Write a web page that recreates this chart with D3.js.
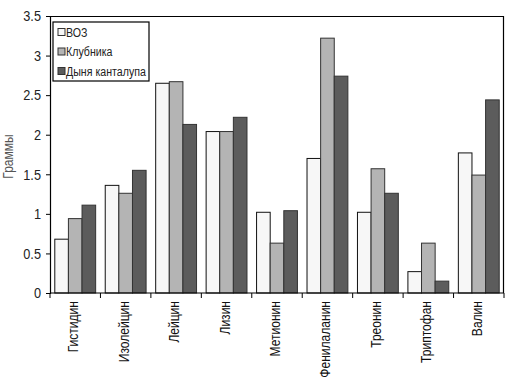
<!DOCTYPE html>
<html>
<head>
<meta charset="utf-8">
<script src="https://cdn.jsdelivr.net/npm/d3@7"></script>
<style>
  body { margin: 0; background: #fff; }
  text { font-family: "Liberation Sans", Arial, sans-serif; fill: #111; }
</style>
</head>
<body>
<svg id="chart" width="511" height="384"></svg>
<script>
// amino acids, grams
var categories = ["Гистидин", "Изолейцин", "Лейцин", "Лизин", "Метионин", "Фенилаланин", "Треонин", "Триптофан", "Валин"];
var seriesNames = ["ВОЗ", "Клубника", "Дыня канталупа"];
var voz = [0.68, 1.36, 2.65, 2.04, 1.02, 1.70, 1.02, 0.27, 1.77];
var strawberry = [0.94, 1.26, 2.67, 2.04, 0.63, 3.22, 1.57, 0.63, 1.49];
var melon = [1.11, 1.55, 2.13, 2.22, 1.04, 2.74, 1.26, 0.15, 2.44];
var yTicks = [0, 0.5, 1, 1.5, 2, 2.5, 3, 3.5];
var colors = ["#f7f7f7", "#b4b4b4", "#5c5c5c"];

var allSeries = [voz, strawberry, melon];
var margin = {left: 50, right: 7, top: 16, bottom: 91};
var width = 511 - margin.left - margin.right;
var height = 384 - margin.top - margin.bottom;

// squeeze text to look like a narrow font (no Arial Narrow here)
function narrow(sel, k) {
  sel.each(function(){
    var w = this.getComputedTextLength();
    d3.select(this).attr("textLength", w * k).attr("lengthAdjust", "spacingAndGlyphs");
  });
}

var svg = d3.select("#chart");
var g = svg.append("g").attr("transform", "translate(" + margin.left + "," + margin.top + ")");

var x = d3.scaleBand().domain(categories).range([0, width]).paddingInner(0.19).paddingOuter(0.095);
var xs = d3.scaleBand().domain(d3.range(3)).range([0, x.bandwidth()]);
var y = d3.scaleLinear().domain([0, 3.5]).range([height, 0]);

// frame top + right
g.append("path")
  .attr("d", "M0,0.5H" + (width - 0.5) + "V" + height)
  .attr("fill", "none").attr("stroke", "#000").attr("stroke-width", 1.2);

// bars
var groups = g.selectAll(".grp").data(categories).enter().append("g")
  .attr("transform", function(d){ return "translate(" + x(d) + ",0)"; });

groups.selectAll("rect").data(function(d, i){
    return allSeries.map(function(s, k){ return {k: k, v: s[i]}; });
  }).enter().append("rect")
  .attr("x", function(d){ return xs(d.k); })
  .attr("width", xs.bandwidth())
  .attr("y", function(d){ return y(d.v); })
  .attr("height", function(d){ return height - y(d.v); })
  .attr("fill", function(d){ return colors[d.k]; })
  .attr("stroke", function(d){ return d.k === 0 ? "#111" : "#333"; })
  .attr("stroke-width", 1);

// y axis
var yAxis = g.append("g").call(d3.axisLeft(y).tickValues(yTicks).tickSize(4).tickFormat(d3.format("")));
yAxis.select(".domain").attr("stroke", "#000").attr("stroke-width", 1.2);
yAxis.selectAll("text").attr("font-size", 15).attr("dx", "-2").style("fill", "#222").call(narrow, 0.85);

// x axis with ticks at category boundaries
var xAxis = g.append("g").attr("transform", "translate(0," + height + ")");
xAxis.append("line").attr("x1", 0).attr("x2", width).attr("stroke", "#000").attr("stroke-width", 1.2);
xAxis.selectAll(".tk").data(d3.range(categories.length + 1)).enter().append("line")
  .attr("x1", function(i){ return i * width / categories.length; })
  .attr("x2", function(i){ return i * width / categories.length; })
  .attr("y1", 0).attr("y2", 5).attr("stroke", "#000");
xAxis.selectAll(".lbl").data(categories).enter().append("text")
  .attr("transform", function(d){ return "translate(" + (x(d) + x.bandwidth() / 2 + 3) + ",8) rotate(-90)"; })
  .attr("text-anchor", "end")
  .attr("font-size", 14)
  .text(function(d){ return d; })
  .call(narrow, 0.86);

// y title
svg.append("text")
  .attr("transform", "translate(13," + (margin.top + height / 2 + 2) + ") rotate(-90)")
  .attr("text-anchor", "middle")
  .attr("font-size", 15)
  .style("fill", "#555")
  .text("Граммы")
  .call(narrow, 0.8);

// legend
var lg = g.append("g").attr("transform", "translate(3,6)");
lg.append("rect").attr("width", 96).attr("height", 59)
  .attr("fill", "#fff").attr("stroke", "#000").attr("stroke-width", 1.2);
var items = lg.selectAll(".it").data(seriesNames).enter().append("g")
  .attr("transform", function(d, i){ return "translate(5," + (10 + i * 19.5) + ")"; });
items.append("rect").attr("x", 0).attr("y", -3.5).attr("width", 7).attr("height", 7)
  .attr("fill", function(d, i){ return colors[i]; }).attr("stroke", "#333");
items.append("text").attr("x", 8).attr("dy", "0.36em").attr("font-size", 12.5)
  .style("fill", "#222")
  .text(function(d){ return d; })
  .call(narrow, 0.85);
</script>
</body>
</html>
